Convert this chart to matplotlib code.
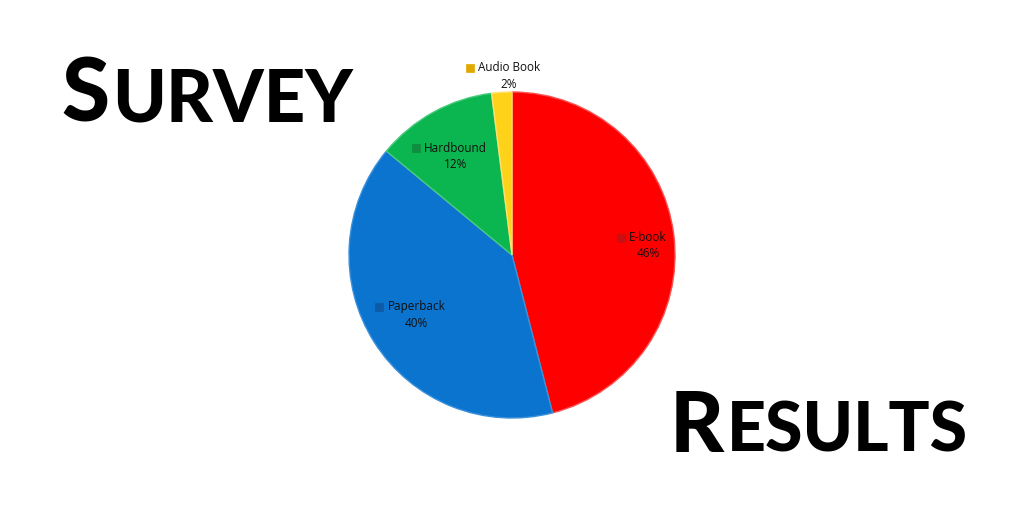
import numpy as np
import matplotlib
matplotlib.use("Agg")
import matplotlib.pyplot as plt

categories = ["E-book", "Paperback", "Hardbound", "Audio Book"]
shares = [46, 40, 12, 2]
colors = ["#FF0000", "#0A74CF", "#0BB54F", "#FFD21A"]
edge_colors = ["#FF5050", "#3A90DA", "#4ACB7E", "#FFE070"]
marker_colors = ["#C81010", "#0C5AA8", "#0E8E3E", "#E0A800"]
label_radius = [0.80, 0.73, 0.70, 1.10]
label_shift = [(0.01, -0.043), (0.0, 0.023), (-0.04, -0.01), (0.02, 0.0)]

fig = plt.figure(figsize=(10.24, 5.12), dpi=100)
fig.patch.set_facecolor("white")

W, H = 1024, 512
cx, cy, r = 512, 255, 163
ax = fig.add_axes([(cx - r) / W, (H - cy - r) / H, 2 * r / W, 2 * r / H])
wedges, _ = ax.pie(shares, colors=colors, startangle=90, counterclock=False,
                   wedgeprops=dict(linewidth=1.0, edgecolor="white"))
for w, ec in zip(wedges, edge_colors):
    w.set_edgecolor(ec)
ax.set_xlim(-1, 1)
ax.set_ylim(-1, 1)
ax.set_aspect("equal")
ax.axis("off")

font = ["Open Sans", "DejaVu Sans"]
for w, name, val, rr, (dx, dy), mc in zip(wedges, categories, shares,
                                          label_radius, label_shift, marker_colors):
    ang = np.deg2rad((w.theta1 + w.theta2) / 2)
    x, y = rr * np.cos(ang) + dx, rr * np.sin(ang) + dy
    t = ax.text(x + 0.03, y + 0.05, name, ha="center", va="center",
                fontsize=8.5, family=font, color="#111111", zorder=6)
    ax.text(x + 0.03, y - 0.05, f"{val}%", ha="center", va="center",
            fontsize=8.5, family=font, color="#111111", zorder=6)
    fig.canvas.draw()
    bb = t.get_window_extent()
    inv = ax.transData.inverted()
    mx, my = inv.transform((bb.x0 - 8, (bb.y0 + bb.y1) / 2))
    ax.plot([mx], [my], marker="s", markersize=5.5, color=mc,
            markeredgecolor=mc, markeredgewidth=0.5, zorder=7, clip_on=False)


def small_caps(text, x_px, y_px, big, small):
    fig.canvas.draw()
    renderer = fig.canvas.get_renderer()
    x = x_px / W
    y = 1 - y_px / H
    t1 = fig.text(x, y, text[0], fontsize=big, family=["Lato", "DejaVu Sans"],
                  fontweight="black", ha="left", va="baseline", color="black")
    bb = t1.get_window_extent(renderer=renderer)
    x2 = bb.x1 / W + 0.003
    fig.text(x2, y, text[1:], fontsize=small, family=["Lato", "DejaVu Sans"],
             fontweight="black", ha="left", va="baseline", color="black")


small_caps("SURVEY", 61, 122, 63, 52)
small_caps("RESULTS", 670, 452, 60, 49)

fig.savefig("out.png", dpi=100, facecolor="white")
